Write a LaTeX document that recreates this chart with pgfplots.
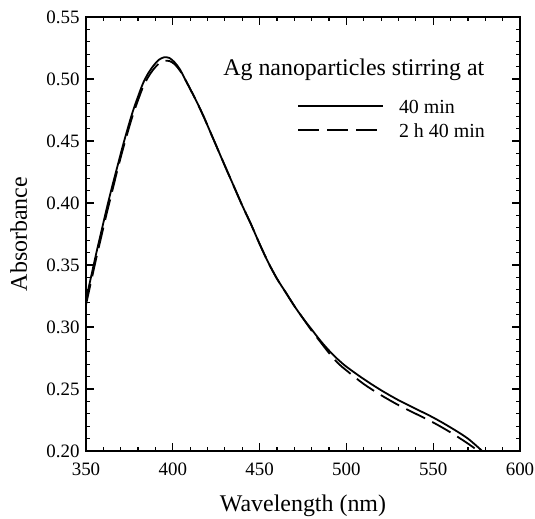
\documentclass[border=0pt]{standalone}
\usepackage{fontspec}
\setmainfont{Liberation Serif}
\usepackage{pgfplots}
\pgfplotsset{compat=1.18}
\usepackage{pgfplotstable}

\pgfplotstableread{
x y
350 0.322
353 0.341
356 0.360
359 0.378
362 0.396
365 0.413
368 0.429
371 0.445
374 0.460
377 0.474
380 0.486
383 0.497
386 0.505
389 0.511
392 0.5155
395 0.5175
398 0.5170
401 0.5135
404 0.508
407 0.500
410 0.492
414 0.481
418 0.469
422 0.456
426 0.443
430 0.430
435 0.414
440 0.398
445 0.383
450 0.367
455 0.352
460 0.339
465 0.328
470 0.317
475 0.307
480 0.298
485 0.289
490 0.281
495 0.274
500 0.268
510 0.258
520 0.249
530 0.241
540 0.234
550 0.227
560 0.219
570 0.210
579 0.199
}\solid

\pgfplotstableread{
x y
350 0.318
353 0.337
356 0.356
359 0.374
362 0.392
365 0.409
368 0.426
371 0.442
374 0.457
377 0.471
380 0.483
383 0.494
386 0.502
389 0.508
392 0.5125
395 0.5145
398 0.5145
401 0.512
404 0.507
407 0.500
410 0.492
414 0.481
418 0.469
422 0.456
426 0.443
430 0.430
435 0.414
440 0.398
445 0.383
450 0.367
455 0.352
460 0.339
465 0.328
470 0.317
475 0.307
480 0.297
485 0.288
490 0.279
495 0.271
500 0.265
510 0.254
520 0.245
530 0.237
540 0.230
550 0.223
560 0.215
570 0.206
577 0.199
}\dashedt

\begin{document}
\begin{tikzpicture}
\begin{axis}[
  scale only axis,
  width=434bp, height=434bp,
  xmin=350, xmax=600, ymin=0.20, ymax=0.55,
  xtick={350,400,...,600},
  ytick={0.20,0.25,...,0.55},
  minor tick num=4,
  tick pos=both,
  ticklabel pos=left,
  tick align=inside,
  axis line style={line width=1.6bp},
  major tick length=8bp,
  minor tick length=4.5bp,
  every tick/.style={black, line width=1.2bp},
  /pgf/number format/assume math mode=true,
  tick label style={font=\fontsize{19}{21}\selectfont},
  yticklabel style={/pgf/number format/fixed, /pgf/number format/fixed zerofill, /pgf/number format/precision=2, xshift=-3bp},
  xticklabel style={/pgf/number format/fixed, /pgf/number format/precision=0, yshift=-8bp},
  xlabel={Wavelength (nm)},
  ylabel={Absorbance},
  label style={font=\fontsize{24}{28}\selectfont},
  xlabel style={at={(axis description cs:0.5,0)}, anchor=base, yshift=-60bp},
  ylabel style={at={(axis description cs:0,0.5)}, anchor=base, yshift=59bp},
  legend cell align=left,
  legend image code/.code={\draw[#1] (0bp,0bp) -- (85bp,0bp); \path[draw=none] (0bp,0bp) -- (101bp,0bp);},
  legend style={draw=none, fill=none, inner sep=0pt, at={(rel axis cs:0.486,0.823)}, anchor=north west,
    font=\fontsize{20}{24}\selectfont,
    nodes={inner sep=0pt, text height=19bp, text depth=5bp}},
]
\addplot[black, line width=1.8bp, smooth] table {\solid};
\addlegendentry{40 min}
\addplot[black, line width=1.8bp, smooth, dash pattern=on 21bp off 8bp] table {\dashedt};
\addlegendentry{2 h 40 min}
\node[anchor=base west, font=\fontsize{24}{28}\selectfont, inner sep=0pt] at (rel axis cs:0.316,0.866) {Ag nanoparticles stirring at};
\end{axis}
\pgfresetboundingbox
\path (current axis.south west) ++(-86bp,-68bp) rectangle ++(535bp,519bp);
\end{tikzpicture}
\end{document}
